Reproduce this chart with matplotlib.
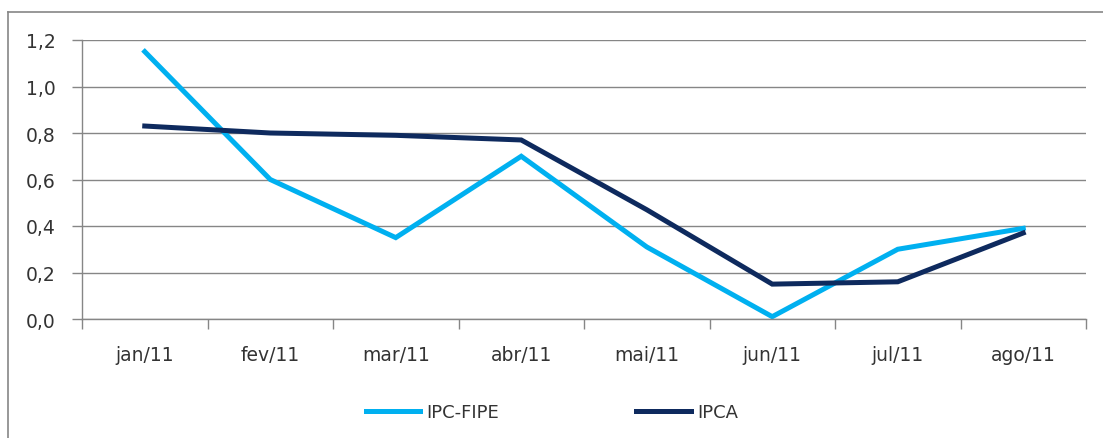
import matplotlib.pyplot as plt
import numpy as np
from matplotlib.lines import Line2D

plt.rcParams['font.family'] = 'DejaVu Sans'

# Data
months = ['jan/11', 'fev/11', 'mar/11', 'abr/11', 'mai/11', 'jun/11', 'jul/11', 'ago/11']
ipc_fipe = [1.15, 0.60, 0.35, 0.70, 0.31, 0.01, 0.30, 0.39]
ipca = [0.83, 0.80, 0.79, 0.77, 0.47, 0.15, 0.16, 0.37]
yticks = [0.0, 0.2, 0.4, 0.6, 0.8, 1.0, 1.2]

grey = '#868686'

fig = plt.figure(figsize=(11.03, 4.39), dpi=100)
ax = fig.add_axes([82 / 1103, 1 - 320 / 439, (1086 - 82) / 1103, (320 - 41) / 439])

x = np.arange(len(months))
ax.plot(x, ipc_fipe, color='#00B0F0', lw=3.6, label='IPC-FIPE', solid_joinstyle='miter')
ax.plot(x, ipca, color='#0E2A5E', lw=3.6, label='IPCA', solid_joinstyle='miter')

ax.set_xlim(-0.5, len(months) - 0.5)
ax.set_ylim(0, 1.2)
ax.set_yticks(yticks)
ax.set_yticklabels([f'{v:.1f}'.replace('.', ',') for v in yticks])
ax.set_xticks(x)
ax.set_xticklabels(months)
ax.set_xticks(np.arange(len(months) + 1) - 0.5, minor=True)

ax.tick_params(axis='x', which='major', length=0, pad=19, labelsize=13.5, colors='#333333')
ax.tick_params(axis='x', which='minor', length=7, color=grey, width=1)
ax.tick_params(axis='y', length=7, color=grey, width=1, pad=12, labelsize=13.5, labelcolor='#333333')

ax.grid(axis='y', color=grey, lw=1)
ax.set_axisbelow(True)
for s in ['top', 'right']:
    ax.spines[s].set_visible(False)
for s in ['left', 'bottom']:
    ax.spines[s].set_color(grey)
    ax.spines[s].set_linewidth(1)

# legend under the chart
fig.legend(loc='center left', bbox_to_anchor=(366 / 1103, 1 - 413 / 439), ncol=2,
           frameon=False, fontsize=13, handlelength=3.0, handletextpad=0.35,
           columnspacing=7.6, borderpad=0, borderaxespad=0,
           labelcolor='#333333')

# outer chart frame (cropped on right and bottom)
fig.add_artist(Line2D([8 / 1103, 1.0], [1 - 13 / 439, 1 - 13 / 439], color=grey, lw=1.2))
fig.add_artist(Line2D([8 / 1103, 8 / 1103], [0, 1 - 13 / 439], color=grey, lw=1.2))

fig.savefig('out.png', dpi=100, facecolor='white')
